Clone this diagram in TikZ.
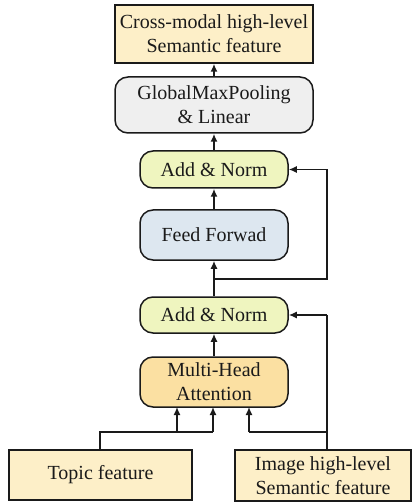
\documentclass[tikz,border=0pt]{standalone}
\usepackage{fontspec}
\setmainfont{Liberation Serif}
\usetikzlibrary{arrows.meta}
\definecolor{beige}{HTML}{FDEFC8}
\definecolor{gmp}{HTML}{EFEFEF}
\definecolor{addn}{HTML}{EFF5BF}
\definecolor{ffc}{HTML}{DDE7F0}
\definecolor{mha}{HTML}{FBE0A2}
\definecolor{ln}{HTML}{1A1A1A}
\begin{document}
\begin{tikzpicture}[x=1pt,y=-1pt,
  box/.style={draw=ln,line width=1.5pt,align=center,inner sep=0pt,font=\fontsize{20}{24}\selectfont,text=ln},
  rbox/.style={box,rounded corners=13pt},
  conn/.style={draw=ln,line width=1.5pt},
  arr/.style={conn,-{Latex[length=8pt,width=7pt]}}]
\useasboundingbox (0,0) rectangle (412,502);
\node[box,fill=beige,minimum width=198pt,minimum height=58pt] (out) at (214,34) {Cross-modal high-level\\Semantic feature};
\node[rbox,fill=gmp,minimum width=198pt,minimum height=56pt] (gmp) at (214,105) {GlobalMaxPooling\\\& Linear};
\node[rbox,fill=addn,minimum width=148pt,minimum height=37pt] (an1) at (214,169.5) {Add \& Norm};
\node[rbox,fill=ffc,minimum width=148pt,minimum height=50pt] (ff) at (214,235) {Feed Forwad};
\node[rbox,fill=addn,minimum width=148pt,minimum height=36pt] (an2) at (214,315) {Add \& Norm};
\node[rbox,fill=mha,minimum width=148pt,minimum height=50pt] (mha) at (214,382) {Multi-Head\\Attention};
\node[box,fill=beige,minimum width=183pt,minimum height=50pt] (topic) at (100.5,475) {Topic feature};
\node[box,fill=beige,minimum width=176pt,minimum height=51pt] (img) at (323,475.5) {Image high-level\\Semantic feature};
\coordinate (tj) at (100,432);
\coordinate (ij) at (327,432);
\coordinate (fj) at (214,279);
\coordinate (fr) at (327,279);
\coordinate (r1) at (327,169.5);
\coordinate (r2) at (327,315);
\draw[arr] (gmp.north) -- (out.south);
\draw[arr] (an1.north) -- (gmp.south);
\draw[arr] (ff.north) -- (an1.south);
\draw[arr] (an2.north) -- (ff.south);
\draw[arr] (mha.north) -- (an2.south);
\draw[conn] (fj) -- (fr) -- (r1);
\draw[arr] (r1) -- (an1.east);
\draw[conn] (topic.north -| tj) -- (tj) -- (213,432);
\draw[arr] (177,432) -- (177,407);
\draw[arr] (213,432) -- (213,407);
\draw[conn] (img.north -| ij) -- (ij) -- (249,432);
\draw[arr] (249,432) -- (249,407);
\draw[conn] (ij) -- (r2);
\draw[arr] (r2) -- (an2.east);
\end{tikzpicture}
\end{document}
